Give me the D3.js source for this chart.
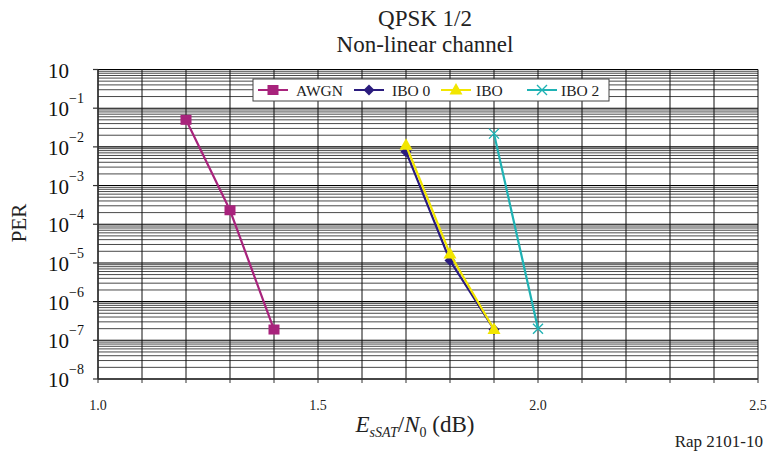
<!DOCTYPE html>
<html>
<head>
<meta charset="utf-8">
<script src="https://cdn.jsdelivr.net/npm/d3@7"></script>
<style>
  html, body { margin: 0; padding: 0; background: #fff; }
  svg { display: block; font-family: "Liberation Serif", "Times New Roman", serif; }
</style>
</head>
<body>
<svg id="chart" width="768" height="452"></svg>
<script>
// Packet error rate vs Es(SAT)/N0 for QPSK 1/2 over a non-linear channel
const xTicks = [1.0, 1.5, 2.0, 2.5];
const yExponents = [0, -1, -2, -3, -4, -5, -6, -7, -8];

const awgnX = [1.2, 1.3, 1.4];
const awgnY = [5e-2, 2.3e-4, 1.9e-7];

const ibo0X = [1.7, 1.8, 1.9];
const ibo0Y = [7.5e-3, 1.15e-5, 1.9e-7];

const iboX = [1.7, 1.8, 1.9];
const iboY = [1.1e-2, 1.7e-5, 1.9e-7];

const ibo2X = [1.9, 2.0];
const ibo2Y = [2.2e-2, 2e-7];

const seriesNames = ["AWGN", "IBO 0", "IBO", "IBO 2"];

const series = [
  { name: seriesNames[0], xs: awgnX, ys: awgnY, color: "#A8237C", marker: "square" },
  { name: seriesNames[1], xs: ibo0X, ys: ibo0Y, color: "#2B1C7E", marker: "diamond" },
  { name: seriesNames[2], xs: iboX, ys: iboY, color: "#F2E600", marker: "triangle" },
  { name: seriesNames[3], xs: ibo2X, ys: ibo2Y, color: "#1FB2B4", marker: "cross" }
];

const svg = d3.select("#chart");
const plotL = 98, plotR = 758, plotT = 69.5, plotB = 379;

const x = d3.scaleLinear().domain([1.0, 2.5]).range([plotL, plotR]);
const y = d3.scaleLog().domain([1e-8, 1]).range([plotB, plotT]);

// Grid: minor (2..9 per decade) and decade lines
const g = svg.append("g");
const minor = [];
for (let e = -8; e < 0; e++) for (let m = 2; m <= 9; m++) minor.push(m * Math.pow(10, e));
g.selectAll("line.minor").data(minor).enter().append("line")
  .attr("x1", plotL).attr("x2", plotR)
  .attr("y1", d => y(d)).attr("y2", d => y(d))
  .attr("stroke", "#1a1a1a").attr("stroke-width", 0.8);
g.selectAll("line.major").data(yExponents).enter().append("line")
  .attr("x1", plotL).attr("x2", plotR)
  .attr("y1", d => y(Math.pow(10, d))).attr("y2", d => y(Math.pow(10, d)))
  .attr("stroke", "#000").attr("stroke-width", 1.1);

const vGrid = d3.range(0, 16).map(i => 1.0 + i * 0.1);
g.selectAll("line.v").data(vGrid).enter().append("line")
  .attr("x1", d => x(d)).attr("x2", d => x(d))
  .attr("y1", plotT).attr("y2", plotB)
  .attr("stroke", "#111").attr("stroke-width", 1);

// Axes
svg.append("line").attr("x1", plotL).attr("x2", plotL).attr("y1", plotT).attr("y2", plotB)
  .attr("stroke", "#333").attr("stroke-width", 1.5);
svg.append("line").attr("x1", plotL).attr("x2", plotR).attr("y1", plotB).attr("y2", plotB)
  .attr("stroke", "#333").attr("stroke-width", 1.5);

// Y ticks and labels
yExponents.forEach(e => {
  const yy = y(Math.pow(10, e));
  svg.append("line").attr("x1", plotL - 5).attr("x2", plotL).attr("y1", yy).attr("y2", yy)
    .attr("stroke", "#333").attr("stroke-width", 1.2);
  const t = svg.append("text").attr("x", 48).attr("y", yy + 8)
    .attr("font-size", 21).attr("fill", "#111");
  t.append("tspan").text("10");
  if (e !== 0) {
    t.append("tspan").attr("dy", -13).attr("font-size", 14).text("\u2212" + (-e));
  }
});

// X ticks and labels
vGrid.forEach(v => {
  svg.append("line").attr("x1", x(v)).attr("x2", x(v)).attr("y1", plotB).attr("y2", plotB + 4)
    .attr("stroke", "#333").attr("stroke-width", 1);
});
xTicks.forEach(v => {
  svg.append("text").attr("x", x(v)).attr("y", 410).attr("text-anchor", "middle")
    .attr("font-size", 14).attr("fill", "#222").text(v.toFixed(1));
});

// Marker drawing
function marker(sel, type, color, cx, cy) {
  if (type === "square") {
    sel.append("rect").attr("x", cx - 5.5).attr("y", cy - 5).attr("width", 11).attr("height", 10)
      .attr("fill", color);
  } else if (type === "diamond") {
    sel.append("path").attr("d", `M${cx},${cy - 5.5}L${cx + 5.5},${cy}L${cx},${cy + 5.5}L${cx - 5.5},${cy}Z`)
      .attr("fill", color);
  } else if (type === "triangle") {
    sel.append("path").attr("d", `M${cx},${cy - 7}L${cx + 6.5},${cy + 4.5}L${cx - 6.5},${cy + 4.5}Z`)
      .attr("fill", color);
  } else if (type === "cross") {
    sel.append("path").attr("d", `M${cx - 5},${cy - 5}L${cx + 5},${cy + 5}M${cx - 5},${cy + 5}L${cx + 5},${cy - 5}`)
      .attr("stroke", color).attr("stroke-width", 1.4).attr("fill", "none");
  }
}

// Series
const line = d3.line().x(d => x(d[0])).y(d => y(d[1]));
series.forEach(s => {
  const pts = s.xs.map((v, i) => [v, s.ys[i]]);
  const gs = svg.append("g");
  gs.append("path").attr("d", line(pts)).attr("fill", "none")
    .attr("stroke", s.color).attr("stroke-width", 2.2);
  pts.forEach(p => marker(gs, s.marker, s.color, x(p[0]), y(p[1])));
});

// Legend
const lg = svg.append("g");
lg.append("rect").attr("x", 253).attr("y", 79).attr("width", 356).attr("height", 22)
  .attr("fill", "#fff").attr("stroke", "#444").attr("stroke-width", 1);
const legendPos = [
  { lx: 258, tx: 296 },
  { lx: 354, tx: 392 },
  { lx: 441, tx: 476 },
  { lx: 527, tx: 561 }
];
series.forEach((s, i) => {
  const p = legendPos[i];
  lg.append("line").attr("x1", p.lx).attr("x2", p.lx + 30).attr("y1", 90).attr("y2", 90)
    .attr("stroke", s.color).attr("stroke-width", 2);
  marker(lg, s.marker, s.color, p.lx + 15, 90);
  lg.append("text").attr("x", p.tx).attr("y", 95.5).attr("font-size", 15.5).attr("fill", "#222").text(s.name);
});

// Titles
svg.append("text").attr("x", 425).attr("y", 26).attr("text-anchor", "middle")
  .attr("font-size", 23).attr("fill", "#222").text("QPSK 1/2");
svg.append("text").attr("x", 425).attr("y", 52).attr("text-anchor", "middle")
  .attr("font-size", 23).attr("fill", "#222").text("Non-linear channel");

// Y axis title
svg.append("text").attr("transform", "translate(26,223) rotate(-90)").attr("text-anchor", "middle")
  .attr("font-size", 21).attr("fill", "#222").text("PER");

// X axis title
const xt = svg.append("text").attr("x", 415).attr("y", 432).attr("text-anchor", "middle")
  .attr("font-size", 23).attr("fill", "#222");
xt.append("tspan").attr("font-style", "italic").text("E");
xt.append("tspan").attr("font-style", "italic").attr("font-size", 14).attr("dy", 5).text("sSAT");
xt.append("tspan").attr("dy", -5).text("/");
xt.append("tspan").attr("font-style", "italic").text("N");
xt.append("tspan").attr("font-size", 14).attr("dy", 5).text("0");
xt.append("tspan").attr("dy", -5).text(" (dB)");

svg.append("text").attr("x", 763).attr("y", 447).attr("text-anchor", "end")
  .attr("font-size", 17).attr("fill", "#222").text("Rap 2101-10");
</script>
</body>
</html>
